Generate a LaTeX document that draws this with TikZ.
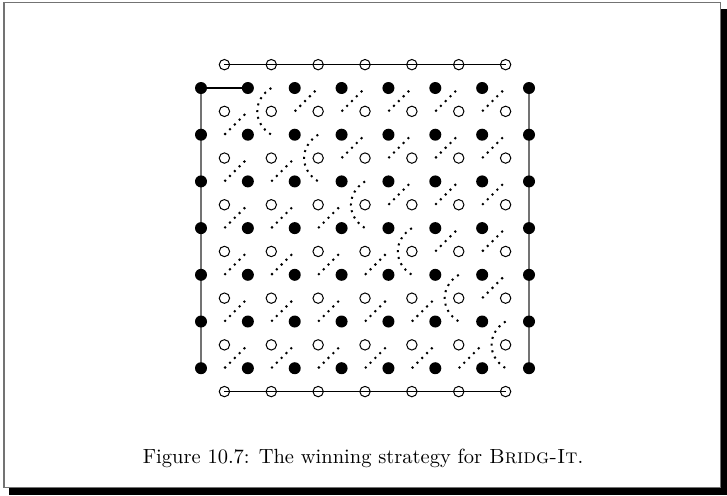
\documentclass[tikz,border=0pt]{standalone}
\usetikzlibrary{backgrounds}

\begin{document}
\begin{tikzpicture}[
  x=0.5pt, y=-0.5pt,
  blackdot/.style={circle, fill=black, inner sep=0pt, minimum size=6pt},
  whitedot/.style={circle, draw=black, line width=0.5pt, inner sep=0pt, minimum size=5.2pt},
  border/.style  ={line width=0.7pt, draw=black!55},
  edgeline/.style={line width=0.5pt, draw=black},
  played/.style  ={line width=1pt, draw=black},
  pairing/.style ={line width=1pt, dash pattern=on 1pt off 2.4pt},
  frame/.style   ={line width=0.8pt, draw=black!55},
  caption/.style ={font=\fontsize{10.25}{12}\selectfont}
]
\useasboundingbox (0,0) rectangle (727,495);

% =================== FRAME ===================
\draw[frame] (4,2.5) rectangle (720.5,487.5);
\fill[black] (9,488) rectangle (727,495);
\fill[black] (721,9) rectangle (727,495);

\begin{scope}[xshift=100.5pt, yshift=-44pt, x=11.715pt, y=-11.675pt]

% =================== BLACK SPOTS ===================
\foreach \i in {0,...,7}
  \foreach \j in {0,...,6}
    \node[blackdot] (b-\i-\j) at (2*\i, 2*\j) {};

% =================== WHITE SPOTS ===================
\foreach \i in {0,...,6}
  \foreach \j in {0,...,7}
    \node[whitedot] (w-\i-\j) at (2*\i+1, 2*\j-1) {};

% edge midpoints (h = horizontal, v = vertical black edges)
\foreach \i in {0,...,6}
  \foreach \j in {0,...,6}
    \coordinate (h-\i-\j) at (2*\i+1, 2*\j);
\foreach \i in {0,...,7}
  \foreach \j in {0,...,5}
    \coordinate (v-\i-\j) at (2*\i, 2*\j+1);

% =================== EDGES ===================
\begin{pgfonlayer}{background}
  \draw[border] (b-0-0.center) -- (b-0-6.center);
  \draw[border] (b-7-0.center) -- (b-7-6.center);
  \draw[edgeline] (w-0-0.center) -- (w-6-0.center);
  \draw[edgeline] (w-0-7.center) -- (w-6-7.center);
\end{pgfonlayer}
\draw[played] (b-0-0.center) -- (b-1-0.center);

% =================== PAIRINGS ===================
\foreach \c in {0,...,5}
  \foreach \a in {0,...,6} {
    \pgfmathtruncatemacro{\an}{\a+1}
    \pgfmathtruncatemacro{\cn}{\c+1}
    \ifnum\a<\cn
      \draw[pairing] (h-\a-\cn) -- (v-\an-\c);
    \else\ifnum\a=\cn
      \draw[pairing] (h-\a-\c) .. controls +(-0.8,0.5) and +(-0.8,-0.5) .. (h-\a-\cn);
    \else
      \draw[pairing] (v-\a-\c) -- (h-\a-\c);
    \fi\fi
  }

\end{scope}

% =================== CAPTION ===================
\node[caption] (caption) at (363,458) {Figure 10.7: The winning strategy for \textsc{Bridg-It}.};

\end{tikzpicture}
\end{document}
